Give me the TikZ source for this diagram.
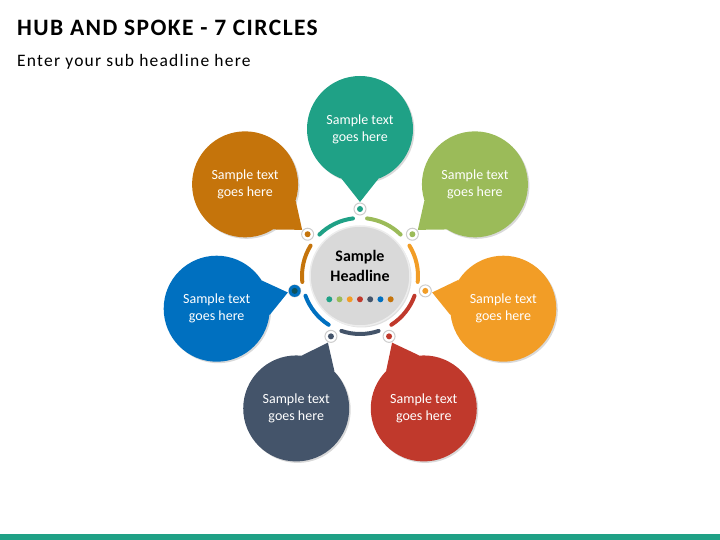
\documentclass[tikz,border=0pt]{standalone}
\usepackage{fontspec}
\setmainfont{Carlito}
\newfontfamily\headfont[LetterSpace=6.0]{Carlito}
\newfontfamily\subheadfont[LetterSpace=7.0]{Carlito}
\usetikzlibrary{calc,shadows}

\definecolor{spkTeal}{RGB}{31,161,134}
\definecolor{spkGreen}{RGB}{155,187,89}
\definecolor{spkOrange}{RGB}{242,157,38}
\definecolor{spkRed}{RGB}{192,57,44}
\definecolor{spkSlate}{RGB}{68,84,106}
\definecolor{spkBlue}{RGB}{0,112,192}
\definecolor{spkBrown}{RGB}{197,116,11}
\definecolor{hubGray}{RGB}{217,217,217}
\definecolor{dotDark}{RGB}{14,82,92}

\begin{document}
\begin{tikzpicture}[x=1pt,y=1pt,
    spoke/.style={circle, fill=#1, minimum size=106pt, inner sep=0pt, text=white, align=center,
      font=\fontsize{14}{17}\selectfont, drop shadow={opacity=0.3,shadow xshift=1.5pt,shadow yshift=-1.5pt}},
    pin/.style={circle, fill=white, draw=black!20, line width=1pt, minimum size=12pt, inner sep=0pt}]
  \useasboundingbox (0,0) rectangle (720,540);
  % heading
  \node[anchor=base west, inner sep=0pt, font=\headfont\bfseries\fontsize{23.5}{26}\selectfont] (title) at (17,504.5) {HUB AND SPOKE - 7 CIRCLES};
  \node[anchor=base west, inner sep=0pt, font=\subheadfont\fontsize{17.5}{22}\selectfont] (subtitle) at (17,473.5) {Enter your sub headline here};
  \fill[spkTeal] (0,0) rectangle (720,6);
  % hub
  \node[circle, fill=hubGray, draw=black!7, line width=1.5pt, minimum size=100pt, inner sep=0pt,
    drop shadow={opacity=0.25,shadow xshift=1.5pt,shadow yshift=-1.5pt}] (hub) at (360,264) {};
  \node[font=\bfseries\fontsize{16}{19.5}\selectfont, align=center] (headline) at ([yshift=10pt]hub.center) {Sample\\Headline};
  \foreach \col [count=\i from 0] in {spkTeal,spkGreen,spkOrange,spkRed,spkSlate,spkBlue,spkBrown}{
    \pgfmathsetmacro\a{90-\i*360/7}
    \pgfmathsetmacro\bl{\a+180-20}
    \pgfmathsetmacro\br{\a+180+20}
    % ring arc
    \draw[\col, line width=4pt, line cap=round] ($(hub)+(\a+7:58)$) arc[start angle=\a+7, end angle=\a+360/7-7, radius=58pt];
    % small dot in hub
    \fill[\col] ($(hub)+(\i*10.23-30.7,-23.3)$) circle (3pt);
    % bubble with its tail
    \node[spoke=\col] (spoke\i) at ($(hub)+(\a:147)$) {Sample text\\goes here};
    \coordinate (tip\i) at ($(hub)+(\a:74)$);
    \fill[\col] (spoke\i.\bl) -- (tip\i) -- (spoke\i.\br) -- cycle;
    \node[pin] (dot\i) at ($(hub)+(\a:67)$) {};
    \fill[\col] (dot\i) circle (3pt);
  }
  \fill[spkBlue] (dot5) circle (6pt);
  \fill[dotDark] (dot5) circle (3pt);
\end{tikzpicture}
\end{document}
